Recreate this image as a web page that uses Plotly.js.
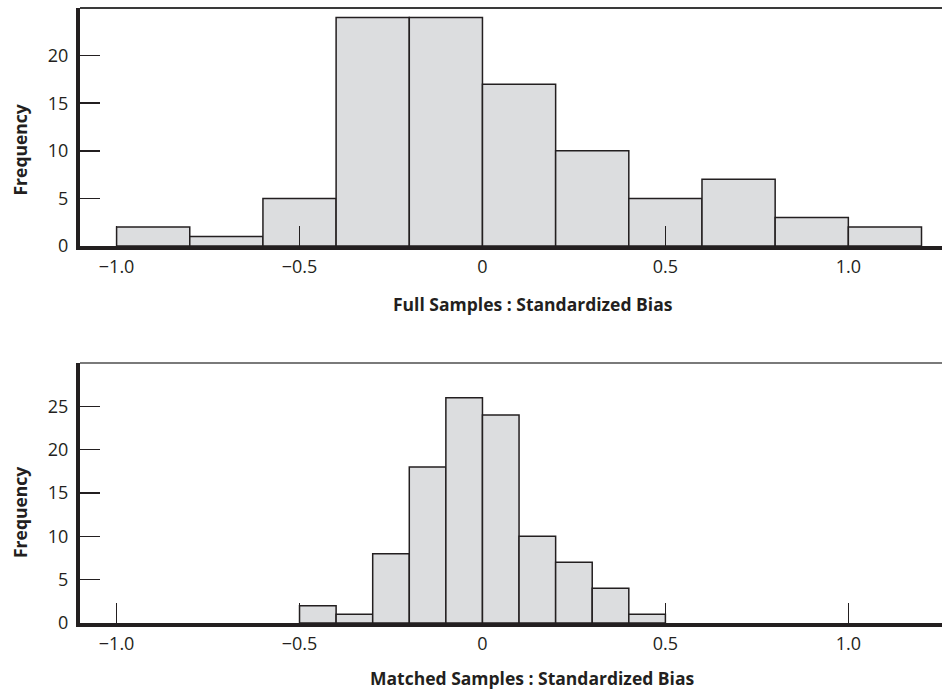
<!DOCTYPE html>
<html>
<head>
<meta charset="utf-8">
<script src="https://cdn.plot.ly/plotly-3.0.1.min.js"></script>
<style>
  html, body { margin: 0; padding: 0; background: #fff; }
  #chart { width: 942px; height: 692px; }
</style>
</head>
<body>
<div id="chart"></div>
<script>
// Histogram of standardized bias, full samples (bin edges and counts)
const fullEdges = [-1.0, -0.8, -0.6, -0.4, -0.2, 0.0, 0.2, 0.4, 0.6, 0.8, 1.0, 1.2];
const fullCounts = [2, 1, 5, 24, 24, 17, 10, 5, 7, 3, 2];

// Histogram of standardized bias, matched samples
const matchedEdges = [-0.5, -0.4, -0.3, -0.2, -0.1, 0.0, 0.1, 0.2, 0.3, 0.4, 0.5];
const matchedCounts = [2, 1, 8, 18, 26, 24, 10, 7, 4, 1];

// Axis ticks
const xTickVals = [-1.0, -0.5, 0, 0.5, 1.0];
const xTickText = ['\u22121.0', '\u22120.5', '0', '0.5', '1.0'];
const fullYTicks = [0, 5, 10, 15, 20];
const matchedYTicks = [0, 5, 10, 15, 20, 25];

const titleFull = 'Full Samples : Standardized Bias';
const titleMatched = 'Matched Samples : Standardized Bias';
const titleY = 'Frequency';

const INK = '#231f20';
const FONT = '"Open Sans", "Noto Sans", sans-serif';

function centers(edges) {
  return edges.slice(0, -1).map((e, i) => (e + edges[i + 1]) / 2);
}
function widths(edges) {
  return edges.slice(0, -1).map((e, i) => edges[i + 1] - e);
}

function histTrace(edges, counts, xa, ya) {
  return {
    type: 'bar',
    x: centers(edges),
    y: counts,
    width: widths(edges),
    xaxis: xa,
    yaxis: ya,
    marker: { color: '#dcdddf', line: { color: INK, width: 1.5 } },
    hoverinfo: 'x+y',
    showlegend: false
  };
}

const xRange = [-1.1, 1.256];

function xAxis(domainAnchor) {
  return {
    anchor: domainAnchor,
    range: xRange,
    tickmode: 'array',
    tickvals: xTickVals,
    ticktext: xTickText,
    ticks: 'inside',
    ticklen: 20,
    tickwidth: 1.5,
    tickcolor: INK,
    showline: true,
    linewidth: 4,
    linecolor: INK,
    showgrid: false,
    zeroline: false,
    ticklabelstandoff: 1,
    tickfont: { family: FONT, size: 18, color: INK },
    fixedrange: true
  };
}

function yAxis(domain, range, ticks, anchor) {
  return {
    anchor: anchor,
    domain: domain,
    range: range,
    tickmode: 'array',
    tickvals: ticks,
    ticks: 'inside',
    ticklen: 20,
    tickwidth: 1.5,
    tickcolor: INK,
    showline: true,
    linewidth: 4,
    linecolor: INK,
    showgrid: false,
    zeroline: false,
    ticklabelstandoff: 4,
    tickfont: { family: FONT, size: 18, color: INK },
    fixedrange: true
  };
}

const titleFont = { family: FONT, size: 17.5, color: INK, weight: 'bold' };

const layout = {
  width: 942,
  height: 692,
  margin: { l: 80, r: 0, t: 8, b: 69 },
  paper_bgcolor: '#ffffff',
  plot_bgcolor: '#ffffff',
  bargap: 0,
  xaxis: xAxis('y'),
  yaxis: yAxis([0.613, 1], [0, 25], fullYTicks, 'x'),
  xaxis2: xAxis('y2'),
  yaxis2: yAxis([0, 0.4228], [0, 30], matchedYTicks, 'x2'),
  shapes: [
    { type: 'line', xref: 'x domain', yref: 'y domain', x0: 0, x1: 1, y0: 1, y1: 1,
      line: { color: '#3a3a3a', width: 2 } },
    { type: 'line', xref: 'x2 domain', yref: 'y2 domain', x0: 0, x1: 1, y0: 1, y1: 1,
      line: { color: '#7a7a7a', width: 2 } }
  ],
  annotations: [
    { text: '<b>' + titleFull + '</b>', xref: 'paper', yref: 'paper',
      x: 0.525, y: 0.519, xanchor: 'center', yanchor: 'middle', showarrow: false, font: titleFont },
    { text: '<b>' + titleMatched + '</b>', xref: 'paper', yref: 'paper',
      x: 0.525, y: -0.089, xanchor: 'center', yanchor: 'middle', showarrow: false, font: titleFont },
    { text: '<b>' + titleY + '</b>', xref: 'paper', yref: 'paper', textangle: -90,
      x: -0.0696, y: 0.7683, xanchor: 'center', yanchor: 'middle', showarrow: false, font: titleFont },
    { text: '<b>' + titleY + '</b>', xref: 'paper', yref: 'paper', textangle: -90,
      x: -0.0696, y: 0.1789, xanchor: 'center', yanchor: 'middle', showarrow: false, font: titleFont }
  ]
};

Plotly.newPlot('chart', [
  histTrace(fullEdges, fullCounts, 'x', 'y'),
  histTrace(matchedEdges, matchedCounts, 'x2', 'y2')
], layout, { displayModeBar: false, staticPlot: true });
</script>
</body>
</html>
